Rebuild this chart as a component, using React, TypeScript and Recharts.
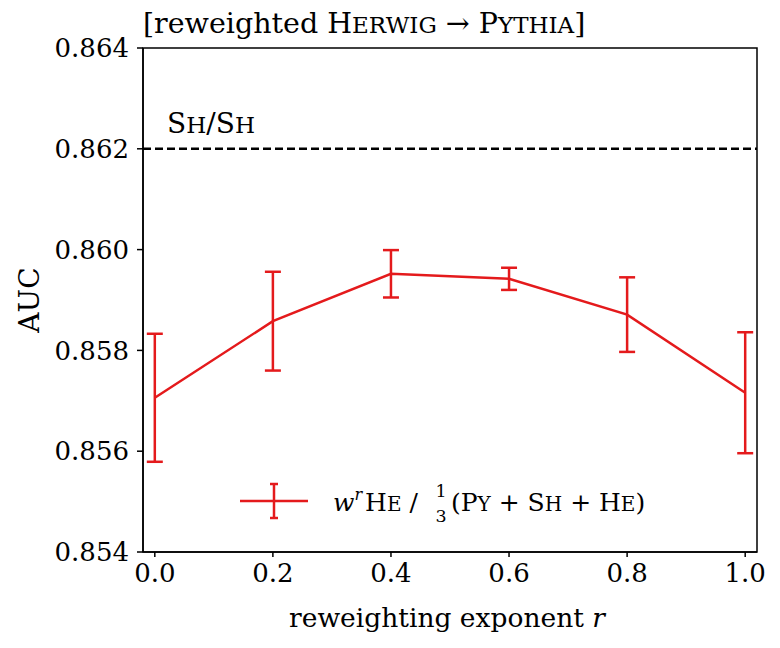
import React from 'react';
import { ComposedChart, Line, XAxis, YAxis, ErrorBar, ReferenceLine, ReferenceArea, Legend, Label } from 'recharts';

const exponents = [0, 0.2, 0.4, 0.6, 0.8, 1.0];
const aucValues = [0.85706, 0.85858, 0.85952, 0.85942, 0.85871, 0.85716];
const aucErrors = [0.00127, 0.00098, 0.00047, 0.00022, 0.00074, 0.0012];
const baselineAuc = 0.862;
const xTicks = [0, 0.2, 0.4, 0.6, 0.8, 1.0];
const yTicks = [0.854, 0.856, 0.858, 0.86, 0.862, 0.864];
const xDomain = [-0.02, 1.02];
const yDomain = [0.854, 0.864];

const data = exponents.map((r, i) => ({ r, auc: aucValues[i], err: aucErrors[i] }));

const FONT = 'DejaVu Serif';
const RED = '#e41a1c';

const renderLegend = () => (
  <svg width={440} height={60} style={{ display: 'block', overflow: 'visible' }}>
    <line x1={10} x2={78} y1={29} y2={29} stroke={RED} strokeWidth={2.5} />
    <line x1={44} x2={44} y1={12} y2={46} stroke={RED} strokeWidth={2.5} />
    <line x1={40} x2={48} y1={12} y2={12} stroke={RED} strokeWidth={2.5} />
    <line x1={40} x2={48} y1={46} y2={46} stroke={RED} strokeWidth={2.5} />
    <text x={103} y={39} fontFamily={FONT} fontSize={25} fill="#000">
      <tspan fontStyle="italic">w</tspan>
      <tspan fontStyle="italic" fontSize={16} dy={-11}>r</tspan>
      <tspan dy={11} dx={3}>H</tspan>
      <tspan fontSize={20}>E</tspan>
      <tspan>{' / '}</tspan>
    </text>
    <text x={211} y={25} fontFamily={FONT} fontSize={17.5} textAnchor="middle" fill="#000">1</text>
    <text x={211} y={50} fontFamily={FONT} fontSize={17.5} textAnchor="middle" fill="#000">3</text>
    <text x={221} y={39} fontFamily={FONT} fontSize={25} fill="#000">
      <tspan>(P</tspan>
      <tspan fontSize={20}>Y</tspan>
      <tspan>{' + S'}</tspan>
      <tspan fontSize={20}>H</tspan>
      <tspan>{' + H'}</tspan>
      <tspan fontSize={20}>E</tspan>
      <tspan>)</tspan>
    </text>
  </svg>
);

export default function App() {
  return (
    <div style={{ width: 780, height: 648 }}>
      <style>{`body{margin:0}`}</style>
      <ComposedChart
        width={780}
        height={648}
        data={data}
        margin={{ top: 48, right: 23, bottom: 0, left: 0 }}
        style={{ fontFamily: FONT }}
      >
        <XAxis
          type="number"
          dataKey="r"
          domain={xDomain}
          ticks={xTicks}
          tickFormatter={(v: number) => v.toFixed(1)}
          height={96}
          tickSize={5}
          tickMargin={7}
          stroke="#000"
          axisLine={{ stroke: '#000', strokeWidth: 1.5 }}
          tickLine={{ stroke: '#000', strokeWidth: 1.5 }}
          tick={{ fill: '#000', fontSize: 26, fontFamily: FONT }}
          allowDataOverflow
        >
          <Label
            content={(p: any) => {
              const vb = p.viewBox;
              return (
                <text x={vb.x + vb.width / 2 - 3} y={vb.y + 75} textAnchor="middle" fontFamily={FONT} fontSize={26.5} fill="#000">
                  reweighting exponent <tspan fontStyle="italic">r</tspan>
                </text>
              );
            }}
          />
        </XAxis>
        <YAxis
          type="number"
          domain={yDomain}
          ticks={yTicks}
          tickFormatter={(v: number) => v.toFixed(3)}
          width={143}
          tickSize={6}
          tickMargin={8}
          axisLine={{ stroke: '#000', strokeWidth: 1.5 }}
          tickLine={{ stroke: '#000', strokeWidth: 1.5 }}
          tick={{ fill: '#000', fontSize: 26, fontFamily: FONT }}
          allowDataOverflow
        >
          <Label
            content={(p: any) => {
              const vb = p.viewBox;
              const cy = vb.y + vb.height / 2;
              return (
                <text x={39} y={cy} transform={`rotate(-90, 39, ${cy})`} textAnchor="middle" fontFamily={FONT} fontSize={28} fill="#000">
                  AUC
                </text>
              );
            }}
          />
        </YAxis>
        <ReferenceArea
          x1={xDomain[0]}
          x2={xDomain[1]}
          y1={yDomain[0]}
          y2={yDomain[1]}
          fill="none"
          fillOpacity={0}
          stroke="#000"
          strokeWidth={1.5}
          ifOverflow="visible"
        />
        <ReferenceLine
          y={baselineAuc}
          stroke="#000"
          strokeWidth={2.5}
          strokeDasharray="8 4"
          label={(p: any) => {
            const vb = p.viewBox;
            return (
              <text x={vb.x + 24} y={vb.y - 16} fontFamily={FONT} fontSize={28} fill="#000">
                <tspan>S</tspan>
                <tspan fontSize={23}>H</tspan>
                <tspan>/S</tspan>
                <tspan fontSize={23}>H</tspan>
              </text>
            );
          }}
        />
        <Line
          type="linear"
          dataKey="auc"
          stroke={RED}
          strokeWidth={2.5}
          dot={false}
          activeDot={false}
          isAnimationActive={false}
        >
          <ErrorBar dataKey="err" width={8} strokeWidth={2.5} stroke={RED} direction="y" isAnimationActive={false} />
        </Line>
        <Legend
          layout="vertical"
          align="center"
          verticalAlign="middle"
          content={renderLegend}
          wrapperStyle={{ position: 'absolute', left: 230, top: 472, width: 440, height: 60 }}
        />
        <text x={143} y={33} fontFamily={FONT} fontSize={28.5} fill="#000">
          <tspan>[reweighted H</tspan>
          <tspan fontSize={23}>ERWIG</tspan>
          <tspan>{' \u2192 P'}</tspan>
          <tspan fontSize={23}>YTHIA</tspan>
          <tspan>]</tspan>
        </text>
      </ComposedChart>
    </div>
  );
}
